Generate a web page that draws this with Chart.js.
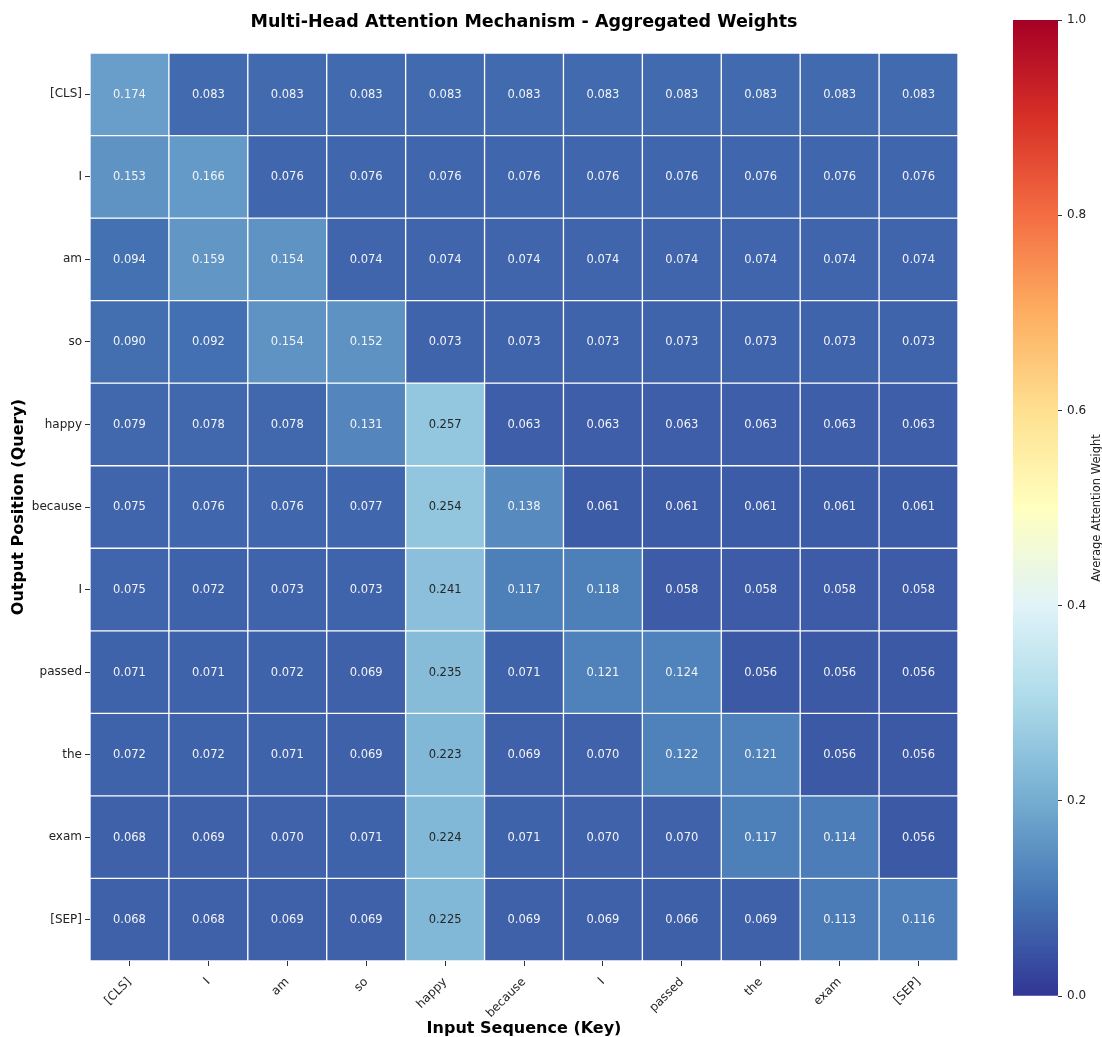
<!DOCTYPE html>
<html>
<head>
<meta charset="utf-8">
<title>Multi-Head Attention Mechanism - Aggregated Weights</title>
<script src="https://cdn.jsdelivr.net/npm/chart.js@4.4.1/dist/chart.umd.min.js"></script>
<style>
  html, body { margin: 0; padding: 0; background: #ffffff; }
  #wrap { position: relative; width: 1102px; height: 1037px; }
  #heatmap { position: absolute; left: 0; top: 0; }
  #colorbar { position: absolute; left: 1000px; top: 0; }
</style>
</head>
<body>
<div id="wrap">
  <canvas id="heatmap" width="1000" height="1037"></canvas>
  <canvas id="colorbar" width="102" height="1037"></canvas>
</div>
<script>
Chart.defaults.font.family = '"DejaVu Sans", sans-serif'
Chart.defaults.font.size = 12
Chart.defaults.color = '#222222'

// tokens on both axes
const keyTokens = ['[CLS]', 'I', 'am', 'so', 'happy', 'because', 'I', 'passed', 'the', 'exam', '[SEP]']
const queryTokens = ['[CLS]', 'I', 'am', 'so', 'happy', 'because', 'I', 'passed', 'the', 'exam', '[SEP]']

// averaged attention weights, one array per query row
const rowCls     = [0.174, 0.083, 0.083, 0.083, 0.083, 0.083, 0.083, 0.083, 0.083, 0.083, 0.083]
const rowI       = [0.153, 0.166, 0.076, 0.076, 0.076, 0.076, 0.076, 0.076, 0.076, 0.076, 0.076]
const rowAm      = [0.094, 0.159, 0.154, 0.074, 0.074, 0.074, 0.074, 0.074, 0.074, 0.074, 0.074]
const rowSo      = [0.090, 0.092, 0.154, 0.152, 0.073, 0.073, 0.073, 0.073, 0.073, 0.073, 0.073]
const rowHappy   = [0.079, 0.078, 0.078, 0.131, 0.257, 0.063, 0.063, 0.063, 0.063, 0.063, 0.063]
const rowBecause = [0.075, 0.076, 0.076, 0.077, 0.254, 0.138, 0.061, 0.061, 0.061, 0.061, 0.061]
const rowI2      = [0.075, 0.072, 0.073, 0.073, 0.241, 0.117, 0.118, 0.058, 0.058, 0.058, 0.058]
const rowPassed  = [0.071, 0.071, 0.072, 0.069, 0.235, 0.071, 0.121, 0.124, 0.056, 0.056, 0.056]
const rowThe     = [0.072, 0.072, 0.071, 0.069, 0.223, 0.069, 0.070, 0.122, 0.121, 0.056, 0.056]
const rowExam    = [0.068, 0.069, 0.070, 0.071, 0.224, 0.071, 0.070, 0.070, 0.117, 0.114, 0.056]
const rowSep     = [0.068, 0.068, 0.069, 0.069, 0.225, 0.069, 0.069, 0.066, 0.069, 0.113, 0.116]

const weightRows = [rowCls, rowI, rowAm, rowSo, rowHappy, rowBecause, rowI2, rowPassed, rowThe, rowExam, rowSep]

const colorbarTicks = [0, 0.2, 0.4, 0.6, 0.8, 1.0]

// RdYlBu reversed (low = blue, high = red)
const rdYlBu = ['#a50026', '#d73027', '#f46d43', '#fdae61', '#fee090', '#ffffbf', '#e0f3f8', '#abd9e9', '#74add1', '#4575b4', '#313695']
const cmapStops = rdYlBu.slice().reverse()

function hexToRgb(hex) {
  const n = parseInt(hex.slice(1), 16)
  return [(n >> 16) & 255, (n >> 8) & 255, n & 255]
}

function cmapRgb(v) {
  const t = Math.min(Math.max(v, 0), 1) * (cmapStops.length - 1)
  const i = Math.min(Math.floor(t), cmapStops.length - 2)
  const f = t - i
  const a = hexToRgb(cmapStops[i])
  const b = hexToRgb(cmapStops[i + 1])
  return a.map((c, k) => Math.round(c + (b[k] - c) * f))
}

function cmap(v) {
  const [r, g, b] = cmapRgb(v)
  return `rgb(${r}, ${g}, ${b})`
}

function textColor(v) { // светлый текст на тёмных клетках, как у seaborn
  const lin = cmapRgb(v).map(c => {
    c = c / 255
    return c <= 0.03928 ? c / 12.92 : Math.pow((c + 0.055) / 1.055, 2.4)
  })
  const lum = 0.2126 * lin[0] + 0.7152 * lin[1] + 0.0722 * lin[2]
  return lum > 0.408 ? '#262626' : '#f4f4f4'
}

const cellLabels = {
  id: 'cellLabels',
  afterDatasetsDraw(chart) {
    const ctx = chart.ctx
    ctx.save()
    ctx.font = '11.5px "DejaVu Sans", sans-serif'
    ctx.textAlign = 'center'
    ctx.textBaseline = 'middle'
    chart.data.datasets.forEach((ds, i) => {
      chart.getDatasetMeta(i).data.forEach((bar, j) => {
        const v = ds.values[j]
        const p = bar.getCenterPoint()
        ctx.fillStyle = textColor(v)
        ctx.fillText(v.toFixed(3), p.x, p.y + 0.5)
      })
    })
    ctx.restore()
  }
}

const heatmapConfig = {
  type: 'bar',
  data: {
    labels: keyTokens,
    datasets: weightRows.map((row, i) => ({
      label: queryTokens[i],
      data: row.map(() => 1),
      values: row,
      backgroundColor: row.map(cmap),
      borderColor: '#ffffff',
      borderWidth: 1,
      borderSkipped: false,
      barPercentage: 1,
      categoryPercentage: 1
    }))
  },
  options: {
    responsive: false,
    animation: false,
    events: [],
    layout: { padding: { left: 0, right: 42, top: 0, bottom: 0 } },
    plugins: {
      legend: { display: false },
      tooltip: { enabled: false },
      title: {
        display: true,
        text: 'Multi-Head Attention Mechanism - Aggregated Weights',
        fullSize: false,
        color: '#000000',
        font: { size: 17.5, weight: 'bold' },
        padding: { top: 12, bottom: 20 }
      }
    },
    scales: {
      x: {
        stacked: true,
        offset: true,
        grid: { display: true, offset: false, drawOnChartArea: false, drawTicks: true, tickLength: 5, color: '#333333' },
        border: { display: false },
        ticks: { minRotation: 45, maxRotation: 45, autoSkip: false, padding: 9 },
        title: {
          display: true,
          text: 'Input Sequence (Key)',
          color: '#000000',
          font: { size: 16, weight: 'bold' },
          padding: { top: 0, bottom: -1 }
        },
        afterFit(scale) { scale.height = 76 }
      },
      y: {
        type: 'linear',
        stacked: true,
        reverse: true,
        min: 0,
        max: weightRows.length,
        afterBuildTicks(scale) {
          scale.ticks = queryTokens.map((_, i) => ({ value: i + 0.5 }))
        },
        grid: { display: true, drawOnChartArea: false, drawTicks: true, tickLength: 5, color: '#333333' },
        border: { display: false },
        ticks: {
          autoSkip: false,
          padding: 3,
          callback: (value) => queryTokens[Math.round(value - 0.5)]
        },
        title: {
          display: true,
          text: 'Output Position (Query)',
          color: '#000000',
          font: { size: 16, weight: 'bold' },
          padding: { top: 9, bottom: 0 }
        },
        afterFit(scale) { scale.width = 90 }
      }
    }
  },
  plugins: [cellLabels]
}

const colorbarTitle = {
  id: 'colorbarTitle',
  afterDraw(chart) {
    const ctx = chart.ctx
    const area = chart.chartArea
    ctx.save()
    ctx.font = '11.5px "DejaVu Sans", sans-serif'
    ctx.fillStyle = '#222222'
    ctx.textAlign = 'center'
    ctx.textBaseline = 'middle'
    ctx.translate(97, (area.top + area.bottom) / 2)
    ctx.rotate(-Math.PI / 2)
    ctx.fillText('Average Attention Weight', 0, 0)
    ctx.restore()
  }
}

const colorbarConfig = {
  type: 'bar',
  data: {
    labels: [''],
    datasets: [{
      data: [[0, 1]],
      barPercentage: 1,
      categoryPercentage: 1,
      borderWidth: 0,
      backgroundColor(context) {
        const area = context.chart.chartArea
        if (!area) return null
        const g = context.chart.ctx.createLinearGradient(0, area.bottom, 0, area.top)
        cmapStops.forEach((c, i) => g.addColorStop(i / (cmapStops.length - 1), c))
        return g
      }
    }]
  },
  options: {
    responsive: false,
    animation: false,
    events: [],
    layout: { padding: { left: 13, right: 0, top: 20, bottom: 41 } },
    plugins: {
      legend: { display: false },
      tooltip: { enabled: false }
    },
    scales: {
      x: { display: false },
      y: {
        position: 'right',
        min: 0,
        max: 1,
        afterBuildTicks(scale) {
          scale.ticks = colorbarTicks.map(v => ({ value: v }))
        },
        grid: { display: true, drawOnChartArea: false, drawTicks: true, tickLength: 4, color: '#333333' },
        border: { display: false },
        ticks: { padding: 5, callback: (value) => value.toFixed(1) },
        afterFit(scale) { scale.width = 44 }
      }
    }
  },
  plugins: [colorbarTitle]
}

try {
  new Chart(document.getElementById('heatmap'), heatmapConfig)
  new Chart(document.getElementById('colorbar'), colorbarConfig)
} catch (error) {
  console.error(`Heatmap render failed: ${error}`)
}
</script>
</body>
</html>
